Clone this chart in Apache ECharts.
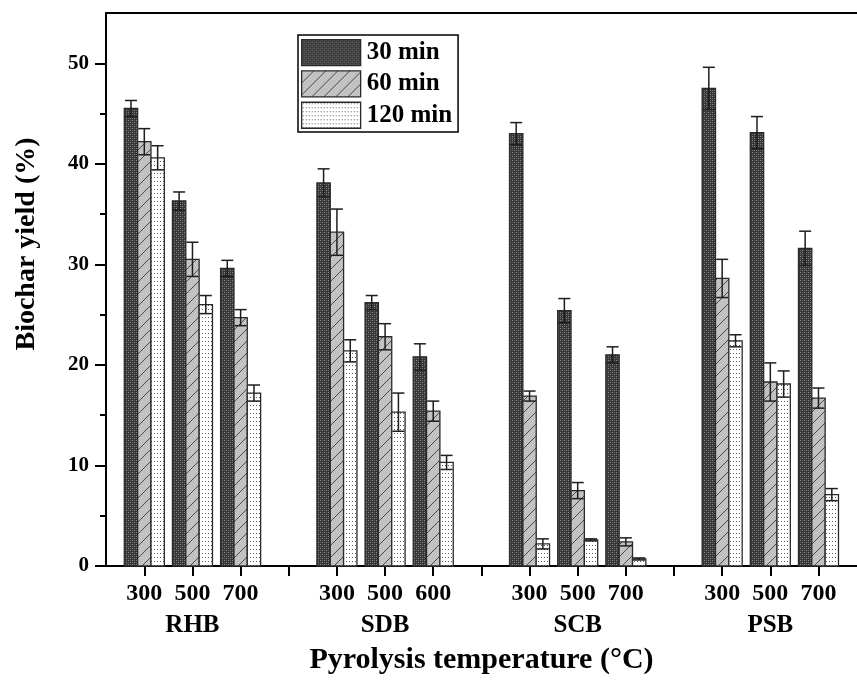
<!DOCTYPE html>
<html>
<head>
<meta charset="utf-8">
<script src="https://cdn.jsdelivr.net/npm/echarts@6/dist/echarts.min.js"></script>
<style>
  html, body { margin: 0; padding: 0; background: #fff; }
  #chart { width: 857px; height: 680px; }
</style>
</head>
<body>
<div id="chart"></div>
<script>
// Biomass feedstocks and the pyrolysis temperatures tested for each
const groups = ['RHB', 'SDB', 'SCB', 'PSB'];
const temperatures = [
  ['300', '500', '700'],
  ['300', '500', '600'],
  ['300', '500', '700'],
  ['300', '500', '700']
];
const seriesNames = ['30 min', '60 min', '120 min'];

// Biochar yield (%) per residence time, ordered group by group
const yield30  = [45.5, 36.3, 29.6,  38.1, 26.2, 20.8,  43.0, 25.4, 21.0,  47.5, 43.1, 31.6];
const yield60  = [42.2, 30.5, 24.7,  33.2, 22.8, 15.4,  16.9,  7.5,  2.4,  28.6, 18.3, 16.7];
const yield120 = [40.6, 26.0, 17.2,  21.4, 15.3, 10.3,   2.2,  2.6,  0.7,  22.4, 18.1,  7.1];

// Standard deviations
const err30  = [0.8, 0.9, 0.8,  1.4, 0.7, 1.3,  1.1, 1.2, 0.8,  2.1, 1.6, 1.7];
const err60  = [1.3, 1.7, 0.8,  2.3, 1.3, 1.0,  0.5, 0.8, 0.4,  1.9, 1.9, 1.0];
const err120 = [1.2, 0.9, 0.8,  1.1, 1.9, 0.7,  0.5, 0.1, 0.1,  0.6, 1.3, 0.6];

const yMajorTicks = [0, 10, 20, 30, 40, 50];
const yMinorTicks = [5, 15, 25, 35, 45];

const FONT = 'Liberation Serif';

// Each group takes three slots on the x scale, followed by one empty slot
const slotOf = (g, t) => g * 4 + t + 1;
const allSlots = [];
for (let i = 1; i <= 15; i++) allSlots.push(i);
const labelSlots = [];
const labelText = {};
groups.forEach((g, gi) => temperatures[gi].forEach((t, ti) => {
  const s = slotOf(gi, ti);
  labelSlots.push(s);
  labelText[s] = t;
}));
const groupSlots = groups.map((g, gi) => slotOf(gi, 1));
const groupText = {};
groups.forEach((g, gi) => { groupText[slotOf(gi, 1)] = g; });

function buildData(values, errs) {
  const out = [];
  let k = 0;
  groups.forEach((g, gi) => temperatures[gi].forEach((t, ti) => {
    out.push([slotOf(gi, ti), values[k], errs[k]]);
    k++;
  }));
  return out;
}

// Fill patterns
function patternDense() {
  const c = document.createElement('canvas');
  c.width = 4; c.height = 4;
  const g = c.getContext('2d');
  g.fillStyle = '#363636'; g.fillRect(0, 0, 4, 4);
  g.fillStyle = '#8e8e8e';
  g.fillRect(0, 0, 1, 1); g.fillRect(2, 2, 1, 1);
  g.fillStyle = '#666666';
  g.fillRect(2, 0, 1, 1); g.fillRect(0, 2, 1, 1);
  return { image: c, repeat: 'repeat' };
}
function patternHatch() {
  const n = 12;
  const c = document.createElement('canvas');
  c.width = n; c.height = n;
  const g = c.getContext('2d');
  g.fillStyle = '#c2c2c2'; g.fillRect(0, 0, n, n);
  g.strokeStyle = '#4a4a4a'; g.lineWidth = 1;
  g.beginPath();
  g.moveTo(0, n); g.lineTo(n, 0);
  g.moveTo(-2, 2); g.lineTo(2, -2);
  g.moveTo(n - 2, n + 2); g.lineTo(n + 2, n - 2);
  g.stroke();
  return { image: c, repeat: 'repeat' };
}
function patternDots() {
  const c = document.createElement('canvas');
  c.width = 3; c.height = 4;
  const g = c.getContext('2d');
  g.fillStyle = '#ffffff'; g.fillRect(0, 0, 3, 4);
  g.fillStyle = '#5a5a5a'; g.fillRect(1, 1, 1, 1);
  return { image: c, repeat: 'repeat' };
}
const fills = [patternDense(), patternHatch(), patternDots()];

// Bar with symmetric error bar, offset inside its slot by series position
function barRenderer(seriesPos) {
  return function (params, api) {
    const x = api.value(0), v = api.value(1), e = api.value(2);
    const slot = api.size([1, 0])[0];
    const w = slot * 0.277;
    const base = api.coord([x, 0]);
    const top = api.coord([x, v]);
    const hi = api.coord([x, v + e]);
    const lo = api.coord([x, v - e]);
    const cx = base[0] + (seriesPos - 1) * w;
    const cap = w * 0.45;
    const lineStyle = { stroke: '#1e1e1e', lineWidth: 1.5 };
    return {
      type: 'group',
      children: [
        { type: 'rect', shape: { x: cx - w / 2, y: top[1], width: w, height: base[1] - top[1] },
          style: { fill: fills[seriesPos], stroke: '#2a2a2a', lineWidth: 1.3 } },
        { type: 'line', shape: { x1: cx, y1: lo[1], x2: cx, y2: hi[1] }, style: lineStyle },
        { type: 'line', shape: { x1: cx - cap, y1: hi[1], x2: cx + cap, y2: hi[1] }, style: lineStyle },
        { type: 'line', shape: { x1: cx - cap, y1: lo[1], x2: cx + cap, y2: lo[1] }, style: lineStyle }
      ]
    };
  };
}

const seriesValues = [yield30, yield60, yield120];
const seriesErrors = [err30, err60, err120];

const xMin = 0.2046, xMax = 15.80;
const axisBlack = { color: '#000', width: 2 };

const option = {
  animation: false,
  backgroundColor: '#fff',
  grid: { left: 106, right: 0, top: 13, bottom: 112, containLabel: false },
  legend: {
    orient: 'vertical',
    left: 298, top: 35,
    padding: [4, 6, 3, 3],
    itemWidth: 59, itemHeight: 26, itemGap: 4,
    backgroundColor: '#fff',
    borderColor: '#000', borderWidth: 1.5, borderRadius: 0,
    icon: 'rect',
    textStyle: { fontFamily: FONT, fontWeight: 'bold', fontSize: 25, color: '#000', padding: [0, 0, 0, 1] },
    data: seriesNames.map((n, i) => ({
      name: n,
      itemStyle: { color: fills[i], borderColor: '#2a2a2a', borderWidth: 1.3 }
    }))
  },
  xAxis: [
    {
      type: 'value', min: xMin, max: xMax, position: 'bottom',
      axisLine: { lineStyle: axisBlack },
      axisTick: { show: true, customValues: allSlots, length: 10, lineStyle: axisBlack },
      splitLine: { show: false },
      axisLabel: {
        customValues: labelSlots, margin: 16,
        formatter: v => labelText[v] || '',
        fontFamily: FONT, fontWeight: 'bold', fontSize: 24, color: '#000'
      },
      name: 'Pyrolysis temperature (°C)', nameLocation: 'middle', nameGap: 79,
      nameTextStyle: { fontFamily: FONT, fontWeight: 'bold', fontSize: 30, color: '#000' }
    },
    {
      type: 'value', min: xMin, max: xMax, position: 'bottom',
      axisLine: { show: false }, axisTick: { show: false }, splitLine: { show: false },
      axisLabel: {
        customValues: groupSlots, margin: 47,
        formatter: v => groupText[v] || '',
        fontFamily: FONT, fontWeight: 'bold', fontSize: 25, color: '#000'
      }
    },
    {
      type: 'value', min: xMin, max: xMax, position: 'top',
      axisLine: { lineStyle: axisBlack }, axisTick: { show: false },
      axisLabel: { show: false }, splitLine: { show: false }
    }
  ],
  yAxis: [
    {
      type: 'value', min: 0, max: 55, position: 'left',
      axisLine: { show: true, lineStyle: axisBlack },
      axisTick: { show: true, customValues: yMajorTicks, length: 11, lineStyle: axisBlack },
      splitLine: { show: false },
      axisLabel: {
        customValues: yMajorTicks, margin: 17,
        fontFamily: FONT, fontWeight: 'bold', fontSize: 21, color: '#000'
      }
    },
    {
      type: 'value', min: 0, max: 55, position: 'left', offset: 0,
      axisLine: { show: false },
      axisTick: { show: true, customValues: yMinorTicks, length: 6, lineStyle: axisBlack },
      axisLabel: { show: false }, splitLine: { show: false }
    }
  ],
  graphic: [
    {
      type: 'text', x: 27, y: 244, rotation: Math.PI / 2,
      style: {
        text: 'Biochar yield (%)', font: 'bold 28px "Liberation Serif"',
        fill: '#000', align: 'center', verticalAlign: 'middle'
      }
    }
  ],
  series: seriesNames.map((name, i) => ({
    name,
    type: 'custom',
    xAxisIndex: 0, yAxisIndex: 0,
    itemStyle: { color: fills[i] },
    encode: { x: 0, y: 1 },
    renderItem: barRenderer(i),
    data: buildData(seriesValues[i], seriesErrors[i])
  }))
};

const chart = echarts.init(document.getElementById('chart'), null, { renderer: 'canvas' });
chart.setOption(option);
</script>
</body>
</html>
